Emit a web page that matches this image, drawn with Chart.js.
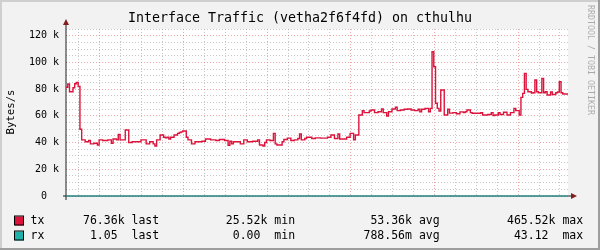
<!DOCTYPE html>
<html>
<head>
<meta charset="utf-8">
<script src="https://cdn.jsdelivr.net/npm/chart.js@4/dist/chart.umd.min.js"></script>
<style>
  html, body { margin: 0; padding: 0; background: #f2f2f2; }
</style>
</head>
<body>
<canvas id="traffic" width="600" height="250"></canvas>
<script>
// tx in kB/s, one value per 5 minutes, starting Fri 02:23
const txValues = [
    81.4, 81.4, 83.8, 78, 78, 81, 84, 85, 82, 50,
    42, 42, 40.6, 40.6, 41.5, 39, 39, 39.5, 39.5, 38.2,
    42, 42, 41.5, 41.5, 41.5, 42, 42, 39.5, 42.7, 42.7,
    42, 46, 42, 42, 42, 49.4, 49.4, 40, 40, 40.6,
    40.6, 40.6, 40.6, 40.6, 42, 42, 42, 39, 39, 40.6,
    40.6, 39, 37.4, 42, 42, 45.7, 45.7, 44, 43.5, 44,
    42.7, 44, 44, 45.7, 45.7, 46.9, 47.5, 48, 48.6, 48.6,
    44, 42, 42, 39, 39, 40.6, 40.6, 40.6, 40.6, 41,
    41, 42.7, 42.7, 42.7, 42, 42, 42, 41.5, 41.5, 42.3,
    42.3, 42.3, 41.5, 41.5, 38, 41, 39, 40.6, 40.6, 40.6,
    40.6, 39, 39, 42, 42, 40.6, 40.6, 40.6, 41, 41,
    41, 42, 38.2, 38.2, 37.4, 40, 42, 42, 41.5, 41.5,
    46.9, 39, 38.2, 38.2, 38.2, 40.6, 42.3, 42.3, 43.3, 43.3,
    41.5, 41.5, 42, 42, 43, 46.4, 42, 42, 43, 44,
    44, 44, 43, 43, 43.5, 43.5, 43.5, 43.3, 43.3, 43.3,
    43.3, 44, 44, 45.7, 45.7, 43, 43, 46.4, 42.7, 42.7,
    42.7, 42.7, 44, 44, 46.9, 46.9, 42, 45.7, 45.7, 60.6,
    60.6, 63.9, 62.4, 62.4, 62.4, 63.6, 64.4, 64.4, 62.4, 62.4,
    63.1, 63.1, 65.1, 62.4, 62.4, 59.9, 63.1, 63.1, 65.1, 65.1,
    66.4, 63.9, 63.9, 64.4, 64.4, 64.9, 64.9, 65.1, 65.1, 64.4,
    64.4, 63.9, 63.9, 64.9, 63.1, 64.9, 64.9, 65.6, 65.6, 63.1,
    65.6, 108, 96.8, 69.4, 65.6, 63.6, 79.3, 79.3, 60.6, 60.6,
    65, 62, 62, 62.4, 62.4, 61.6, 61.6, 63, 63, 62.4,
    63.1, 64.4, 64.4, 62.4, 61.9, 61.9, 61.9, 61.9, 61.9, 62.4,
    60.6, 60.6, 60.6, 61, 61, 62.4, 60.2, 60.6, 60.6, 62.4,
    61, 61, 62.7, 62.7, 60.6, 60.6, 62.4, 62.4, 65.6, 63.9,
    63.9, 60.6, 73.8, 76.8, 91.8, 79.8, 78, 78, 77, 77.3,
    86.8, 78, 77.3, 77.3, 88, 77.3, 78, 75.6, 75.6, 77.8,
    76, 76, 77.3, 77.8, 85.5, 77.3, 76.3, 76.4
];

// rx in B/s, one value per hour
const rxValues = [
    0.4, 0.6, 0.5, 1.2, 0.8, 0.3, 0.7, 0.9, 0.5, 1.1, 0.6, 0.4,
    0.8, 43.1, 0.7, 0.5, 0.9, 1.3, 0.6, 0.8, 0.4, 0.7, 1.0, 1.05
];

const seriesNames = ['tx', 'rx'];
const seriesColors = ['#dc143c', '#20b2aa'];
const statNames = ['last', 'min', 'avg', 'max'];
const txStats = ['76.36k', '25.52k', '53.36k', '465.52k'];
const rxStats = ['1.05 ', '0.00 ', '788.56m', '43.12 '];

const startMinute = 143;     // Fri 02:23
const sampleStep = 5;
const spanMinutes = 1440;
const hourTicks = [];
for (let m = 180; m < startMinute + spanMinutes; m += 60) hourTicks.push(m);
const yTicks = [];
for (let v = 0; v <= 125000; v += 5000) yTicks.push(v);

const mono = '"DejaVu Sans Mono", monospace';

function stepPoints(values, step, scale) {
    const pts = values.map((v, i) => ({ x: startMinute + i * step, y: v * scale }));
    pts.push({ x: startMinute + values.length * step, y: values[values.length - 1] * scale });
    return pts;
}

function hourLabel(m) {
    const day = m < 1440 ? 'Fri' : 'Sat';
    const h = Math.floor(m / 60) % 24;
    return day + ' ' + String(h).padStart(2, '0') + ':00';
}

const minorGrid = 'rgba(143, 143, 143, 0.5)';
const majorGrid = 'rgba(222, 79, 79, 0.5)';

const rrdDecor = {
    id: 'rrdDecor',
    beforeDraw(chart) {
        const ctx = chart.ctx;
        const a = chart.chartArea;
        ctx.save();
        ctx.fillStyle = '#f2f2f2';
        ctx.fillRect(0, 0, 600, 250);
        ctx.fillStyle = '#cfcfcf';
        ctx.fillRect(0, 0, 600, 2);
        ctx.fillRect(0, 0, 2, 250);
        ctx.fillStyle = '#9e9e9e';
        ctx.fillRect(598, 0, 2, 250);
        ctx.fillRect(0, 248, 600, 2);
        ctx.fillStyle = '#ffffff';
        ctx.fillRect(a.left, a.top, a.right - a.left, a.bottom - a.top);
        ctx.restore();
    },
    beforeDatasetsDraw(chart) {
        const ctx = chart.ctx;
        const a = chart.chartArea;
        ctx.save();
        ctx.strokeStyle = '#1f1f1f';
        ctx.lineWidth = 1;
        ctx.beginPath();
        ctx.moveTo(a.left, 200);
        ctx.lineTo(a.left, 25);
        ctx.moveTo(a.left - 3, a.bottom);
        ctx.lineTo(571, a.bottom);
        ctx.stroke();
        ctx.fillStyle = '#801f1f';
        ctx.beginPath();
        ctx.moveTo(a.left, 19);
        ctx.lineTo(a.left - 3, 25);
        ctx.lineTo(a.left + 3, 25);
        ctx.closePath();
        ctx.fill();
        ctx.beginPath();
        ctx.moveTo(577, a.bottom);
        ctx.lineTo(571, a.bottom - 3);
        ctx.lineTo(571, a.bottom + 3);
        ctx.closePath();
        ctx.fill();
        ctx.restore();
    },
    afterDraw(chart) {
        const ctx = chart.ctx;
        ctx.save();
        ctx.fillStyle = '#000';
        ctx.textBaseline = 'middle';

        // title
        ctx.font = '13.3px ' + mono;
        ctx.textAlign = 'center';
        ctx.fillText('Interface Traffic (vetha2f6f4fd) on cthulhu', 300, 19);

        // unit label
        ctx.save();
        ctx.translate(11, 112);
        ctx.rotate(-Math.PI / 2);
        ctx.font = '10.7px ' + mono;
        ctx.fillText('Bytes/s', 0, 0);
        ctx.restore();

        // watermark
        ctx.save();
        ctx.translate(590.5, 60);
        ctx.rotate(Math.PI / 2);
        ctx.font = '8.3px ' + mono;
        ctx.fillStyle = 'rgba(0, 0, 0, 0.3)';
        ctx.fillText('RRDTOOL / TOBI OETIKER', 0, 0);
        ctx.restore();

        // legend
        const rows = [txStats, rxStats];
        const colX = [76.1, 218.9, 363.5, 507];
        ctx.font = '11.5px ' + mono;
        ctx.textAlign = 'left';
        rows.forEach((stats, r) => {
            const y = 221 + r * 15;
            ctx.fillStyle = seriesColors[r];
            ctx.fillRect(15, y - 4.5, 9, 9);
            ctx.strokeStyle = '#000';
            ctx.lineWidth = 1;
            ctx.strokeRect(14.5, y - 5, 9, 9);
            ctx.fillStyle = '#000';
            ctx.fillText(seriesNames[r], 30.6, y);
            stats.forEach((s, i) => {
                ctx.fillText(s.padStart(7) + ' ' + statNames[i], colX[i], y);
            });
        });
        ctx.restore();
    }
};

const traffic_config = {
    type: 'line',
    data: {
        datasets: [
            {
                label: 'tx',
                data: stepPoints(txValues, sampleStep, 1000),
                borderColor: seriesColors[0],
                borderWidth: 1.4,
                stepped: 'after',
                pointRadius: 0,
                fill: false,
                clip: 2
            },
            {
                label: 'rx',
                data: stepPoints(rxValues, 60, 1),
                borderColor: seriesColors[1],
                borderWidth: 1,
                stepped: 'after',
                pointRadius: 0,
                fill: false,
                clip: 2
            }
        ]
    },
    options: {
        responsive: false,
        animation: false,
        events: [],
        layout: { padding: { left: 0, top: 29, right: 32, bottom: 54 } },
        plugins: {
            legend: { display: false },
            title: { display: false },
            tooltip: { enabled: false }
        },
        scales: {
            x: {
                type: 'linear',
                min: startMinute,
                max: startMinute + spanMinutes,
                afterBuildTicks: (scale) => { scale.ticks = hourTicks.map(v => ({ value: v })); },
                afterFit: (scale) => { scale.height = 0; },
                border: { display: false, dash: [1, 2] },
                grid: {
                    drawTicks: false,
                    color: (c) => (c.tick && c.tick.value % 240 === 0) ? majorGrid : minorGrid
                },
                ticks: {
                    autoSkip: false,
                    maxRotation: 0,
                    padding: 6,
                    color: '#000',
                    font: { family: mono, size: 10 },
                    callback: (v) => v % 240 === 0 ? hourLabel(v) : ''
                }
            },
            y: {
                min: 0,
                max: 125000,
                afterBuildTicks: (scale) => { scale.ticks = yTicks.map(v => ({ value: v })); },
                afterFit: (scale) => { scale.width = 66; },
                border: { display: false, dash: [1, 2] },
                grid: {
                    drawTicks: false,
                    color: (c) => (c.tick && c.tick.value % 20000 === 0) ? majorGrid : minorGrid
                },
                ticks: {
                    autoSkip: false,
                    padding: 7,
                    color: '#000',
                    font: { family: mono, size: 10 },
                    callback: (v) => v % 20000 !== 0 ? '' : (v === 0 ? '0  ' : (v / 1000) + ' k')
                }
            }
        }
    },
    plugins: [rrdDecor]
};

new Chart(document.getElementById('traffic'), traffic_config);
</script>
</body>
</html>
